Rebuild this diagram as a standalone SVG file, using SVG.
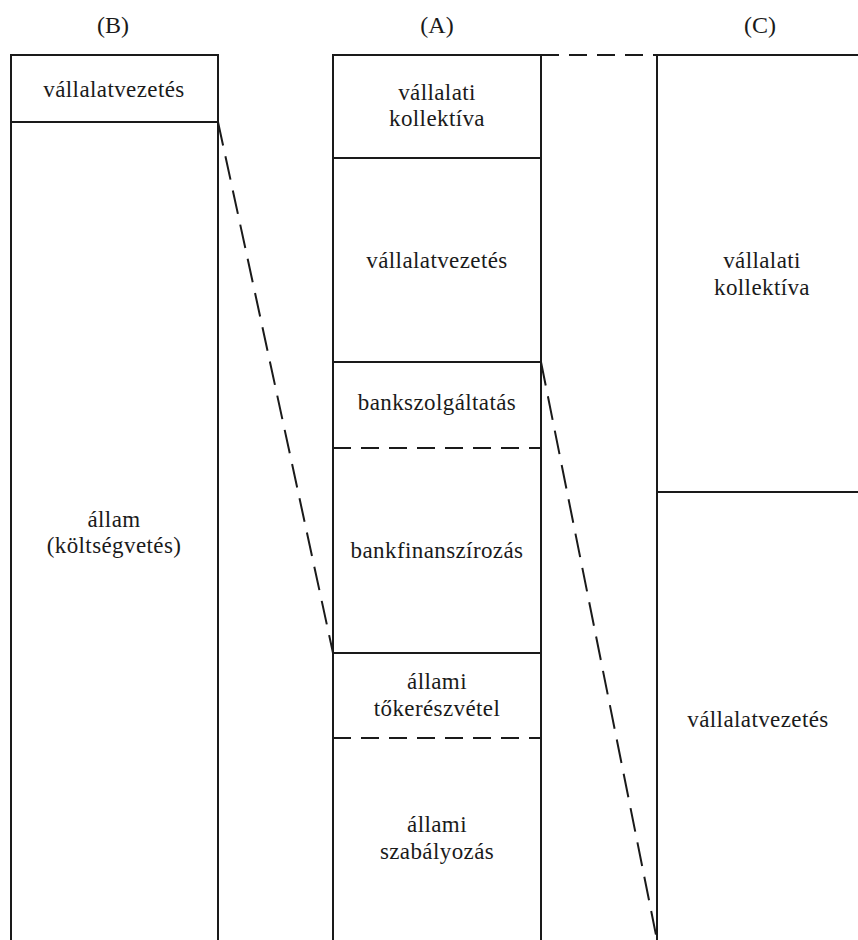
<svg xmlns="http://www.w3.org/2000/svg" width="858" height="940" viewBox="0 0 858 940">
<style>
  .t { font-family: "Liberation Serif", "Times New Roman", serif; font-size: 23px; letter-spacing: 0.4px; fill: #1a1a1a; text-anchor: middle; }
  .h { font-family: "Liberation Serif", "Times New Roman", serif; font-size: 24px; fill: #1a1a1a; text-anchor: middle; }
  .s { stroke: #1a1a1a; stroke-width: 2; fill: none; }
  .d { stroke: #1a1a1a; stroke-width: 2; fill: none; stroke-dasharray: 18 10; }
  .dd { stroke: #1a1a1a; stroke-width: 2; fill: none; stroke-dasharray: 24 11; }
</style>
<rect width="858" height="940" fill="#ffffff"/>
<g id="labels">
  <text class="h" x="113" y="33">(B)</text>
  <text class="h" x="437" y="33">(A)</text>
  <text class="h" x="760" y="33">(C)</text>
</g>
<g id="col-B">
  <path class="s" d="M11 940 V55 H218 V940"/>
  <g id="B-vallalatvezetes">
    <line class="s" x1="11" y1="122" x2="218" y2="122"/>
    <text class="t" x="114" y="97">vállalatvezetés</text>
  </g>
  <g id="B-allam">
    <text class="t" x="114" y="527">állam</text>
    <text class="t" x="114" y="553">(költségvetés)</text>
  </g>
</g>
<g id="col-A">
  <path class="s" d="M333 940 V55 H541 V940"/>
  <g id="A-vallalati-kollektiva">
    <text class="t" x="437" y="100">vállalati</text>
    <text class="t" x="437" y="126">kollektíva</text>
  </g>
  <g id="A-vallalatvezetes">
    <line class="s" x1="333" y1="158" x2="541" y2="158"/>
    <text class="t" x="437" y="268">vállalatvezetés</text>
  </g>
  <g id="A-bankszolgaltatas">
    <line class="s" x1="333" y1="362" x2="541" y2="362"/>
    <text class="t" x="437" y="410">bankszolgáltatás</text>
  </g>
  <g id="A-bankfinanszirozas">
    <line class="d" x1="333" y1="448" x2="541" y2="448"/>
    <text class="t" x="437" y="558">bankfinanszírozás</text>
  </g>
  <g id="A-allami-tokereszvetel">
    <line class="s" x1="333" y1="653" x2="541" y2="653"/>
    <text class="t" x="437" y="689">állami</text>
    <text class="t" x="437" y="716">tőkerészvétel</text>
  </g>
  <g id="A-allami-szabalyozas">
    <line class="d" x1="333" y1="738" x2="541" y2="738"/>
    <text class="t" x="437" y="832">állami</text>
    <text class="t" x="437" y="859">szabályozás</text>
  </g>
</g>
<g id="col-C">
  <path class="s" d="M657 940 V55 H858"/>
  <g id="C-vallalati-kollektiva">
    <text class="t" x="762" y="268">vállalati</text>
    <text class="t" x="762" y="295">kollektíva</text>
  </g>
  <g id="C-vallalatvezetes">
    <line class="s" x1="657" y1="492" x2="858" y2="492"/>
    <text class="t" x="758" y="727">vállalatvezetés</text>
  </g>
</g>
<g id="connectors">
  <line class="d" x1="541" y1="55" x2="657" y2="55"/>
  <line class="dd" x1="218" y1="122" x2="333" y2="653"/>
  <line class="dd" x1="541" y1="362" x2="657" y2="940"/>
</g>
</svg>
